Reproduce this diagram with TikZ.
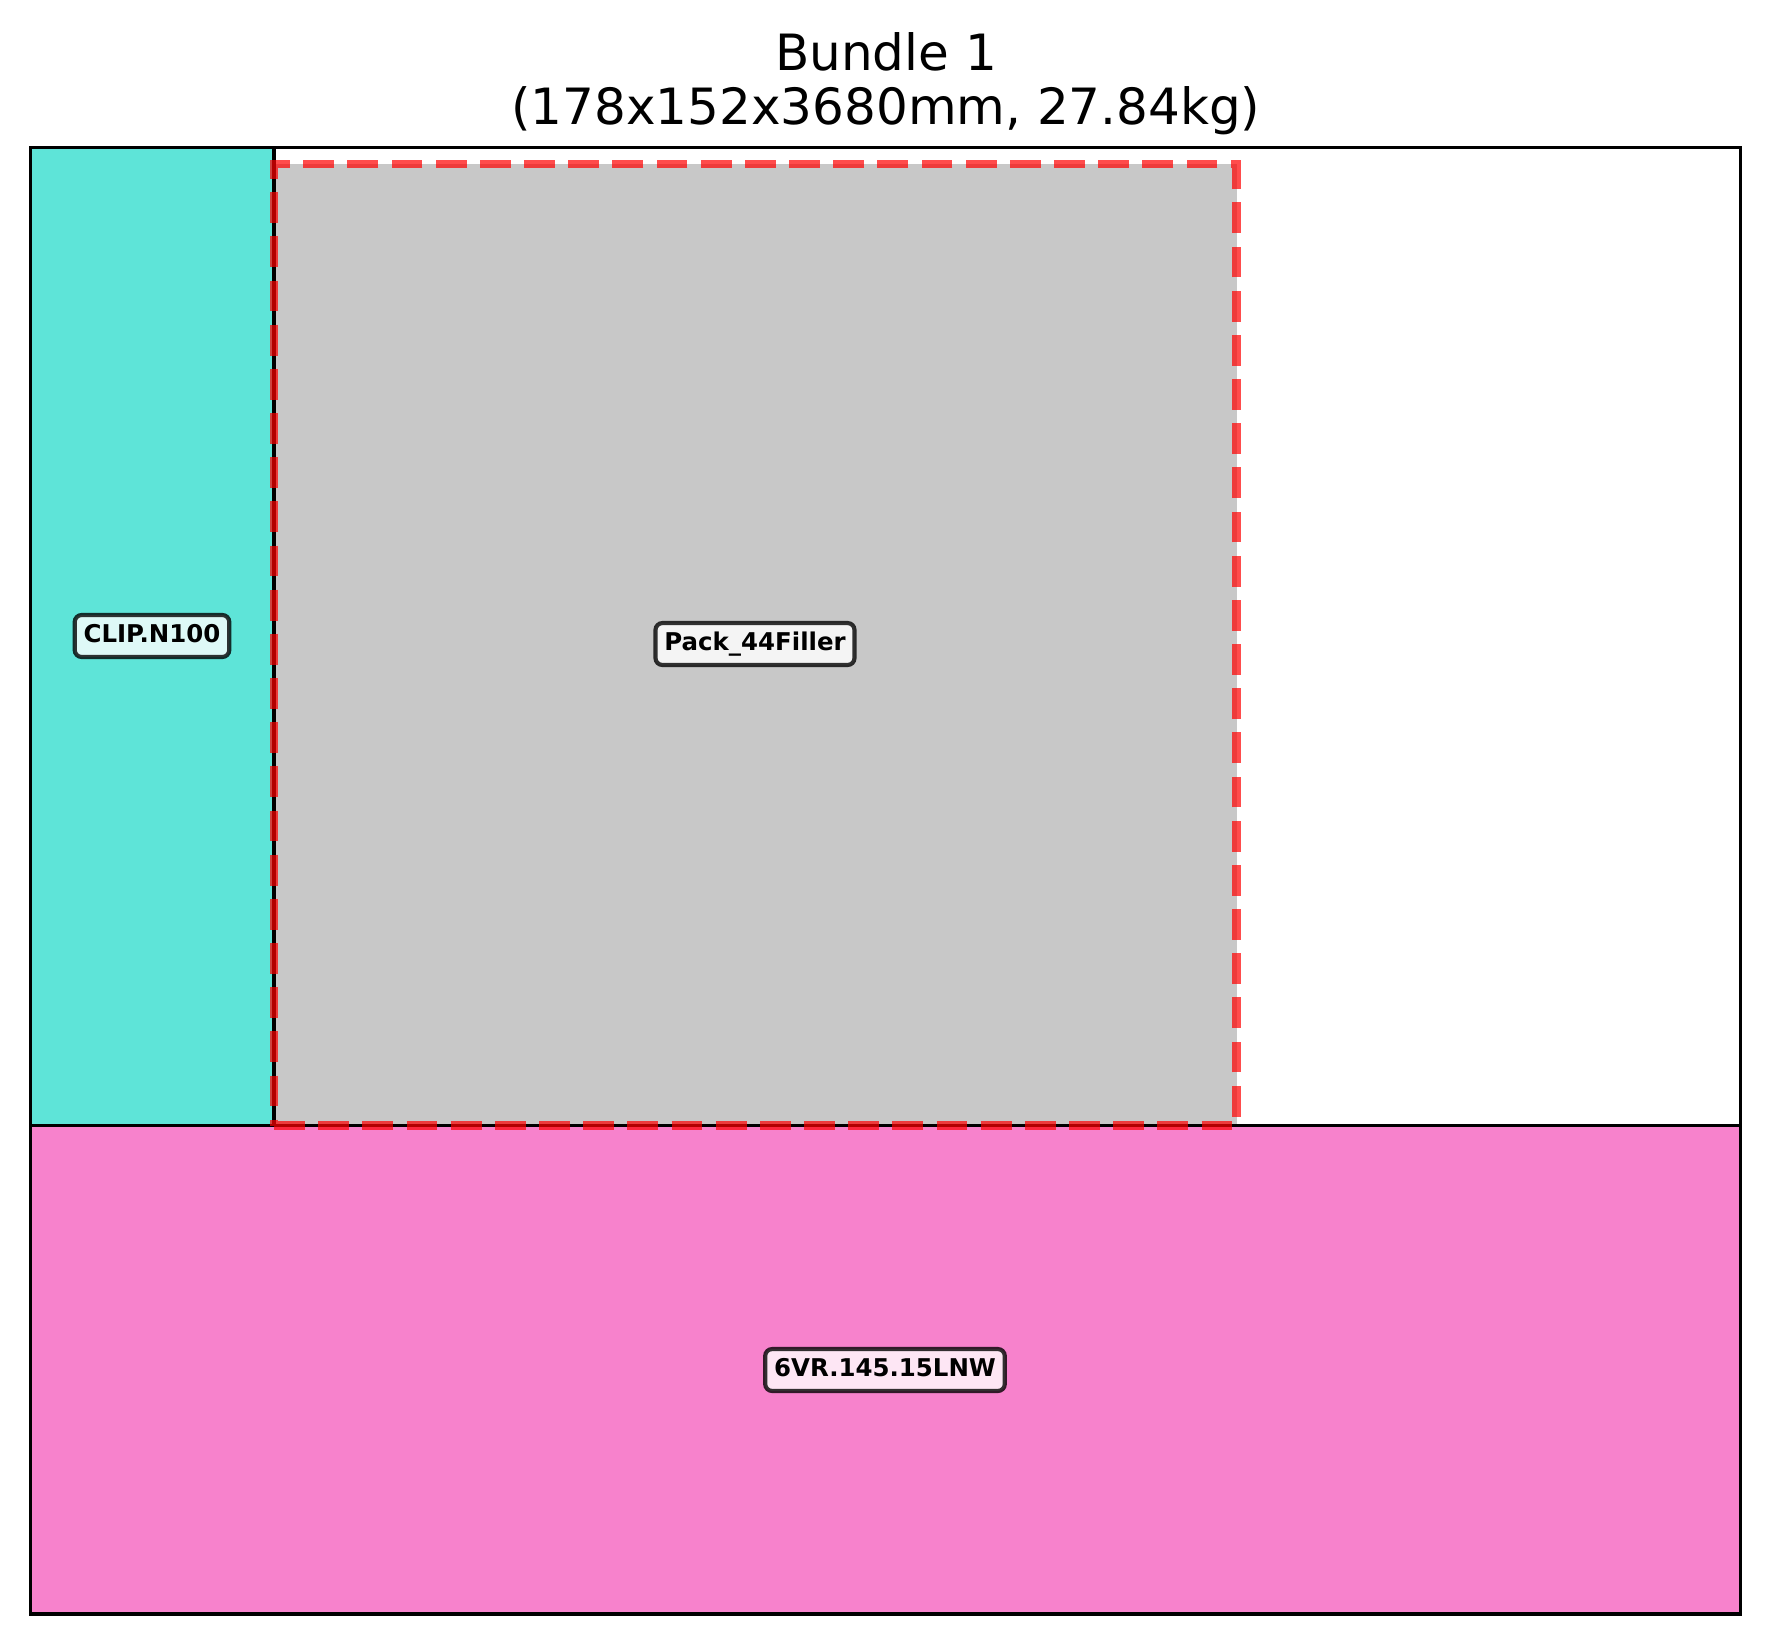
\documentclass[tikz,border=0pt]{standalone}
\usepackage{fontspec}
\setmainfont{DejaVu Sans}
\definecolor{clipc}{RGB}{94,228,216}
\definecolor{pinkc}{RGB}{247,130,204}
\definecolor{greyc}{RGB}{200,200,200}
\begin{document}
\begin{tikzpicture}[x=0.36pt,y=-0.36pt,
  part/.style={draw=black,line width=1.3pt},
  lbl/.style={draw=black,draw opacity=0.8,fill=white,fill opacity=0.8,text opacity=1,
    rounded corners=2.5pt,line width=1.5pt,inner xsep=3.2pt,inner ysep=3.4pt,
    font=\bfseries\fontsize{8.8}{10}\selectfont,text height=6.5pt,text depth=1.8pt},
  filler/.style={draw=red,draw opacity=0.7,line width=3pt,dash pattern=on 11.1pt off 4.8pt},
  ttl/.style={font=\fontsize{18}{21}\selectfont,anchor=base,inner sep=0pt}]
\useasboundingbox (0,0) rectangle (1770,1644);
\fill[white] (0,0) rectangle (1770,1644);
% title
\node[ttl] (t1) at (886,70) {Bundle 1};
\node[ttl] (t2) at (886,124) {(178x152x3680mm, 27.84kg)};
% filler fill
\fill[greyc] (274,164) rectangle (1236.6,1125.6);
% parts
\path[part,fill=clipc] (30.6,147.5) rectangle (274,1125.6);
\path[part,fill=pinkc] (30.6,1125.6) rectangle (1740.6,1614);
% filler dashed outline
\draw[filler] (274,1125.6) -- (1236.6,1125.6) -- (1236.6,164) -- (274,164) -- cycle;
% frame
\draw[line width=1.3pt] (30.6,147.5) rectangle (1740.6,1614);
% labels
\node[lbl] (clip) at (152,636) {CLIP.N100};
\node[lbl] (pack) at (755,644) {Pack\_44Filler};
\node[lbl] (vr) at (885,1370) {6VR.145.15LNW};
\end{tikzpicture}
\end{document}
